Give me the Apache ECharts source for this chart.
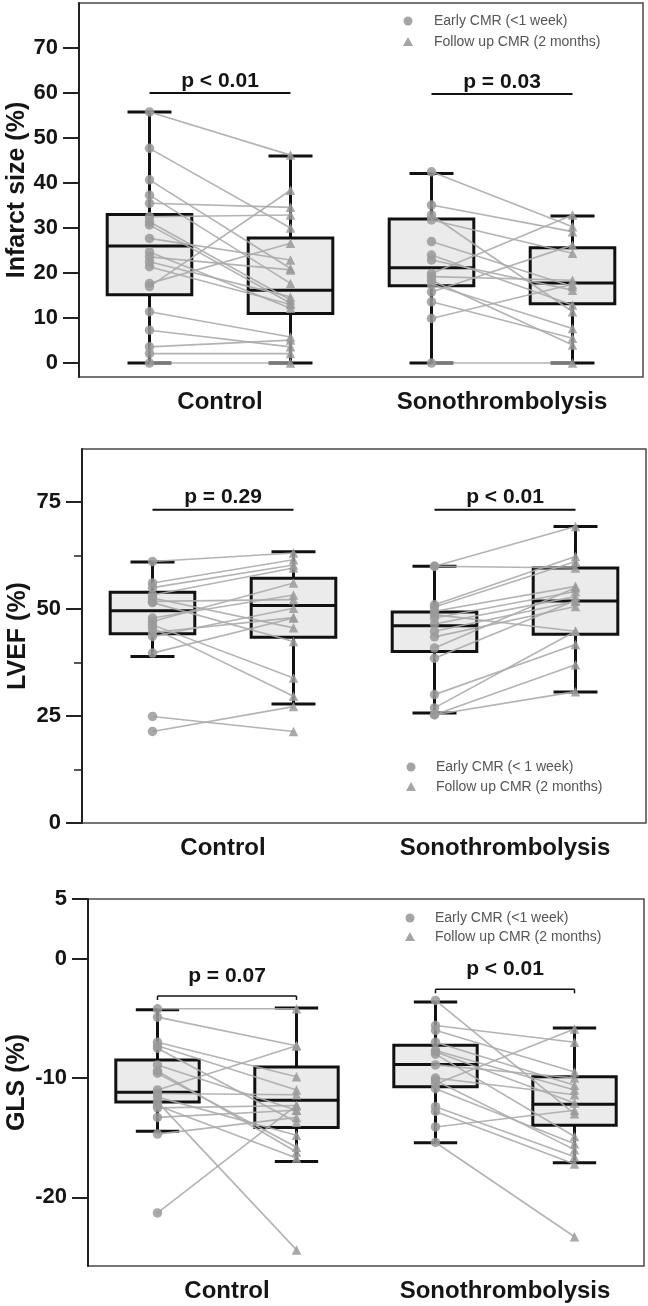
<!DOCTYPE html>
<html>
<head>
<meta charset="utf-8">
<script src="https://cdn.jsdelivr.net/npm/echarts@6/dist/echarts.min.js"></script>
<style>
html,body{margin:0;padding:0;background:#fff;}
#c{width:648px;height:1306px;}
</style>
</head>
<body>
<div id="c"></div>
<script>
// ---------- DATA ----------
const groupLabels = ['Control', 'Sonothrombolysis'];
const legendLabelsA = ['Early CMR (<1 week)', 'Follow up CMR (2 months)'];
const legendLabelsB = ['Early CMR (< 1 week)', 'Follow up CMR (2 months)'];

// y tick labels
const infarctTicks = [0, 10, 20, 30, 40, 50, 60, 70];
const lvefTicks = [0, 25, 50, 75];
const lvefMinorTicks = [12.5, 37.5, 62.5];
const glsTicks = [5, 0, -10, -20];

// box stats [min, Q1, median, Q3, max]: Control early, Control follow-up, Sono early, Sono follow-up
const infarctBoxes = [[0, 15.2, 26.0, 33.0, 55.8], [0, 11.0, 16.2, 27.8, 46.0], [0, 17.2, 21.2, 32.0, 42.1], [0, 13.2, 17.8, 25.6, 32.7]];
const lvefBoxes = [[38.9, 44.2, 49.6, 53.9, 61.0], [27.8, 43.4, 50.8, 57.2, 63.4], [25.7, 40.1, 46.1, 49.3, 60.0], [30.6, 44.1, 51.9, 59.6, 69.3]];
const glsBoxes = [[-14.45, -12.0, -11.2, -8.5, -4.27], [-17.0, -14.15, -11.86, -9.07, -4.13], [-15.43, -10.74, -8.87, -7.26, -3.63], [-17.1, -13.95, -12.2, -9.9, -5.8]];

// paired individual values (early -> follow-up)
const infarctControlEarly  = [55.8, 47.7, 40.7, 37.3, 35.5, 32.5, 31.4, 30.7, 27.7, 24.7, 23.6, 22.5, 21.4, 17.7, 17.0, 11.4, 7.3, 3.6, 2.1, 0];
const infarctControlFollow = [46.2, 30.0, 21.0, 17.7, 34.6, 32.9, 14.0, 13.3, 22.9, 12.2, 20.7, 14.7, 13.0, 26.6, 38.4, 5.8, 3.6, 5.1, 2.1, 0];
const infarctSonoEarly  = [42.5, 35.1, 32.9, 31.8, 27.0, 24.0, 22.9, 19.9, 19.2, 18.4, 17.5, 15.8, 13.6, 9.9, 0];
const infarctSonoFollow = [30.3, 29.2, 11.4, 24.4, 17.0, 12.9, 16.2, 32.9, 18.4, 4.0, 7.7, 26.2, 5.5, 17.5, 0];

const lvefControlEarly  = [61.1, 56.1, 55.0, 53.3, 52.6, 51.8, 51.5, 47.9, 47.1, 46.3, 45.6, 44.5, 43.6, 39.7, 24.9, 21.4];
const lvefControlFollow = [63.1, 61.5, 60.3, 59.6, 45.6, 52.2, 42.4, 53.3, 56.1, 33.9, 29.6, 48.0, 50.2, 47.9, 21.4, 27.2];
const lvefSonoEarly  = [60.0, 60.0, 51.0, 50.5, 49.5, 48.7, 47.9, 46.5, 44.8, 43.5, 40.9, 38.5, 30.0, 26.9, 25.3, 25.3];
const lvefSonoFollow = [69.3, 59.6, 62.3, 61.1, 55.3, 44.8, 54.1, 52.9, 51.8, 50.6, 55.0, 52.0, 41.7, 44.8, 37.0, 30.7];

const glsControlEarly  = [-4.2, -4.9, -7.0, -7.3, -7.5, -8.9, -9.4, -9.6, -11.0, -11.3, -11.6, -12.0, -12.3, -12.5, -13.3, -14.7, -21.3];
const glsControlFollow = [-4.2, -7.3, -9.9, -11.0, -13.7, -12.7, -16.2, -15.8, -7.3, -11.4, -14.8, -24.4, -16.7, -12.3, -12.7, -13.3, -12.3];
const glsSonoEarly  = [-3.5, -5.6, -6.0, -7.0, -7.7, -7.8, -8.0, -8.9, -10.0, -10.2, -10.5, -10.9, -12.4, -12.8, -14.1, -15.4];
const glsSonoFollow = [-13.0, -7.0, -9.5, -10.6, -11.0, -12.1, -14.9, -10.0, -11.4, -16.0, -5.9, -15.5, -16.6, -17.2, -12.7, -23.3];

// p-value annotations
const infarctP = ['p < 0.01', 'p = 0.03'];
const infarctPY = [60, 59.8];
const lvefP = ['p = 0.29', 'p < 0.01'];
const lvefPY = [73.2, 73.2];
const glsP = ['p = 0.07', 'p < 0.01'];
const glsPY = [-3.13, -2.57];

// ---------- CHART ----------
const FONT = '"Liberation Sans", Arial, Helvetica, sans-serif';
const XPOS = [0.5, 1.5, 2.5, 3.5];
const BOX_HALF = 0.3;
const CAP_HALF = 0.156;
const POINT_COLOR = '#9a9a9a';
const LINE_COLOR = '#ababab';

const panels = [
  {grid: {left: 79, top: 3, width: 564, height: 374}, yMin: -3.1, yMax: 80, ticks: infarctTicks, minor: null,
   name: 'Infarct size (%)', nameGap: 49, boxes: infarctBoxes,
   cE: infarctControlEarly, cF: infarctControlFollow, sE: infarctSonoEarly, sF: infarctSonoFollow,
   pText: infarctP, pY: infarctPY, pOff: 12, bracket: false, pLW: 2,
   legend: {x: 408, y: [21, 42], tx: 434, labels: legendLabelsA}},
  {grid: {left: 82, top: 449, width: 564, height: 374}, yMin: 0, yMax: 87.4, ticks: lvefTicks, minor: lvefMinorTicks,
   name: 'LVEF (%)', nameGap: 51, boxes: lvefBoxes,
   cE: lvefControlEarly, cF: lvefControlFollow, sE: lvefSonoEarly, sF: lvefSonoFollow,
   pText: lvefP, pY: lvefPY, pOff: 13, bracket: false, pLW: 2,
   legend: {x: 411, y: [767, 787], tx: 436, labels: legendLabelsB}},
  {grid: {left: 88, top: 899, width: 556, height: 367}, yMin: -25.75, yMax: 5, ticks: glsTicks, minor: null,
   name: 'GLS (%)', nameGap: 58, boxes: glsBoxes,
   cE: glsControlEarly, cF: glsControlFollow, sE: glsSonoEarly, sF: glsSonoFollow,
   pText: glsP, pY: glsPY, pOff: 20, bracket: true, pLW: 1.5,
   legend: {x: 410, y: [918, 937], tx: 435, labels: legendLabelsA}}
];

const option = {
  animation: false,
  backgroundColor: '#fff',
  grid: [], xAxis: [], yAxis: [], series: [], graphic: []
};

panels.forEach((p, i) => {
  option.grid.push(Object.assign({show: true, borderColor: '#4a4a4a', borderWidth: 1.5, containLabel: false, outerBoundsMode: 'none'}, p.grid));
  option.xAxis.push({
    gridIndex: i, type: 'value', min: 0, max: 4,
    axisLine: {show: false}, axisTick: {show: false}, splitLine: {show: false},
    axisLabel: {customValues: [1, 3], formatter: v => (v < 2 ? groupLabels[0] : groupLabels[1]),
      fontSize: 24, fontWeight: 'bold', color: '#151515', margin: 13, fontFamily: FONT}
  });
  const yIdx = option.yAxis.length;
  option.yAxis.push({
    gridIndex: i, type: 'value', min: p.yMin, max: p.yMax,
    name: p.name, nameLocation: 'middle', nameGap: p.nameGap, nameMoveOverlap: false,
    nameTextStyle: {fontSize: 25, fontWeight: 'bold', color: '#151515', fontFamily: FONT},
    axisLine: {show: true, lineStyle: {color: '#222', width: 2}},
    axisTick: {show: true, inside: false, length: 16, lineStyle: {color: '#222', width: 2}, customValues: p.ticks},
    axisLabel: {customValues: p.ticks, fontSize: 22, fontWeight: 'bold', color: '#151515', margin: 21, fontFamily: FONT},
    splitLine: {show: false}
  });
  if (p.minor) {
    option.yAxis.push({
      gridIndex: i, type: 'value', min: p.yMin, max: p.yMax, position: 'left',
      axisLine: {show: false},
      axisTick: {show: true, inside: false, length: 8, lineStyle: {color: '#222', width: 1.5}, customValues: p.minor},
      axisLabel: {show: false}, splitLine: {show: false}
    });
  }

  // boxes
  option.series.push({
    type: 'custom', xAxisIndex: i, yAxisIndex: yIdx, z: 2, silent: true,
    data: p.boxes.map((b, k) => [XPOS[k]].concat(b)),
    encode: {x: 0, y: [1, 2, 3, 4, 5]},
    renderItem: (params, api) => {
      const x = api.value(0);
      const mn = api.value(1), q1 = api.value(2), md = api.value(3), q3 = api.value(4), mx = api.value(5);
      const L = api.coord([x - BOX_HALF, q3]), R = api.coord([x + BOX_HALF, q1]);
      const c = api.coord([x, md]);
      const pMin = api.coord([x, mn]), pMax = api.coord([x, mx]);
      const cl = api.coord([x - CAP_HALF, mn])[0], cr = api.coord([x + CAP_HALF, mn])[0];
      const st = {stroke: '#111', lineWidth: 3, fill: null};
      return {type: 'group', children: [
        {type: 'line', shape: {x1: c[0], y1: R[1], x2: c[0], y2: pMin[1]}, style: st},
        {type: 'line', shape: {x1: c[0], y1: L[1], x2: c[0], y2: pMax[1]}, style: st},
        {type: 'line', shape: {x1: cl, y1: pMin[1], x2: cr, y2: pMin[1]}, style: st},
        {type: 'line', shape: {x1: cl, y1: pMax[1], x2: cr, y2: pMax[1]}, style: st},
        {type: 'rect', shape: {x: L[0], y: L[1], width: R[0] - L[0], height: R[1] - L[1]},
          style: {fill: '#ebebeb', stroke: '#111', lineWidth: 3}},
        {type: 'line', shape: {x1: L[0], y1: c[1], x2: R[0], y2: c[1]}, style: st}
      ]};
    }
  });

  // paired lines
  const pairs = [];
  p.cE.forEach((v, k) => pairs.push([XPOS[0], v, XPOS[1], p.cF[k]]));
  p.sE.forEach((v, k) => pairs.push([XPOS[2], v, XPOS[3], p.sF[k]]));
  option.series.push({
    type: 'custom', xAxisIndex: i, yAxisIndex: yIdx, z: 3, silent: true,
    data: pairs, encode: {x: [0, 2], y: [1, 3]},
    renderItem: (params, api) => {
      const a = api.coord([api.value(0), api.value(1)]);
      const b = api.coord([api.value(2), api.value(3)]);
      return {type: 'line', shape: {x1: a[0], y1: a[1], x2: b[0], y2: b[1]},
        style: {stroke: LINE_COLOR, lineWidth: 1.6, opacity: 0.9}};
    }
  });

  // points
  option.series.push({
    type: 'scatter', xAxisIndex: i, yAxisIndex: yIdx, z: 4, silent: true,
    name: p.legend.labels[0], symbol: 'circle', symbolSize: 9.5,
    itemStyle: {color: POINT_COLOR, opacity: 0.85},
    data: p.cE.map(v => [XPOS[0], v]).concat(p.sE.map(v => [XPOS[2], v]))
  });
  option.series.push({
    type: 'scatter', xAxisIndex: i, yAxisIndex: yIdx, z: 4, silent: true,
    name: p.legend.labels[1], symbol: 'triangle', symbolSize: 9.5,
    itemStyle: {color: POINT_COLOR, opacity: 0.85},
    data: p.cF.map(v => [XPOS[1], v]).concat(p.sF.map(v => [XPOS[3], v]))
  });

  // p-value bars
  option.series.push({
    type: 'custom', xAxisIndex: i, yAxisIndex: yIdx, z: 5, silent: true,
    data: [[XPOS[0], XPOS[1], p.pY[0], 0], [XPOS[2], XPOS[3], p.pY[1], 1]],
    encode: {x: [0, 1], y: 2},
    renderItem: (params, api) => {
      const a = api.coord([api.value(0), api.value(2)]);
      const b = api.coord([api.value(1), api.value(2)]);
      const txt = p.pText[api.value(3)];
      const st = {stroke: '#111', lineWidth: p.pLW};
      const ch = [{type: 'line', shape: {x1: a[0], y1: a[1], x2: b[0], y2: b[1]}, style: st}];
      if (p.bracket) {
        ch.push({type: 'line', shape: {x1: a[0], y1: a[1], x2: a[0], y2: a[1] + 4}, style: st});
        ch.push({type: 'line', shape: {x1: b[0], y1: b[1], x2: b[0], y2: b[1] + 4}, style: st});
      }
      ch.push({type: 'text', x: (a[0] + b[0]) / 2, y: a[1] - p.pOff,
        style: {text: txt, fill: '#151515', fontSize: 21, fontWeight: 'bold', fontFamily: FONT,
          align: 'center', verticalAlign: 'middle', textAlign: 'center', textVerticalAlign: 'middle'}});
      return {type: 'group', children: ch};
    }
  });

  // legend (drawn as graphic)
  const lg = p.legend;
  option.graphic.push(
    {type: 'circle', shape: {cx: lg.x, cy: lg.y[0], r: 4.5}, style: {fill: '#a5a5a5'}, silent: true},
    {type: 'polygon', shape: {points: [[lg.x, lg.y[1] - 5], [lg.x + 5, lg.y[1] + 4], [lg.x - 5, lg.y[1] + 4]]}, style: {fill: '#a5a5a5'}, silent: true},
    {type: 'text', x: lg.tx, y: lg.y[0], style: {text: lg.labels[0], fill: '#555', fontSize: 14, fontFamily: FONT, verticalAlign: 'middle'}, silent: true},
    {type: 'text', x: lg.tx, y: lg.y[1], style: {text: lg.labels[1], fill: '#555', fontSize: 14, fontFamily: FONT, verticalAlign: 'middle'}, silent: true}
  );
});

const chart = echarts.init(document.getElementById('c'), null, {renderer: 'canvas', width: 648, height: 1306});
chart.setOption(option);
</script>
</body>
</html>
